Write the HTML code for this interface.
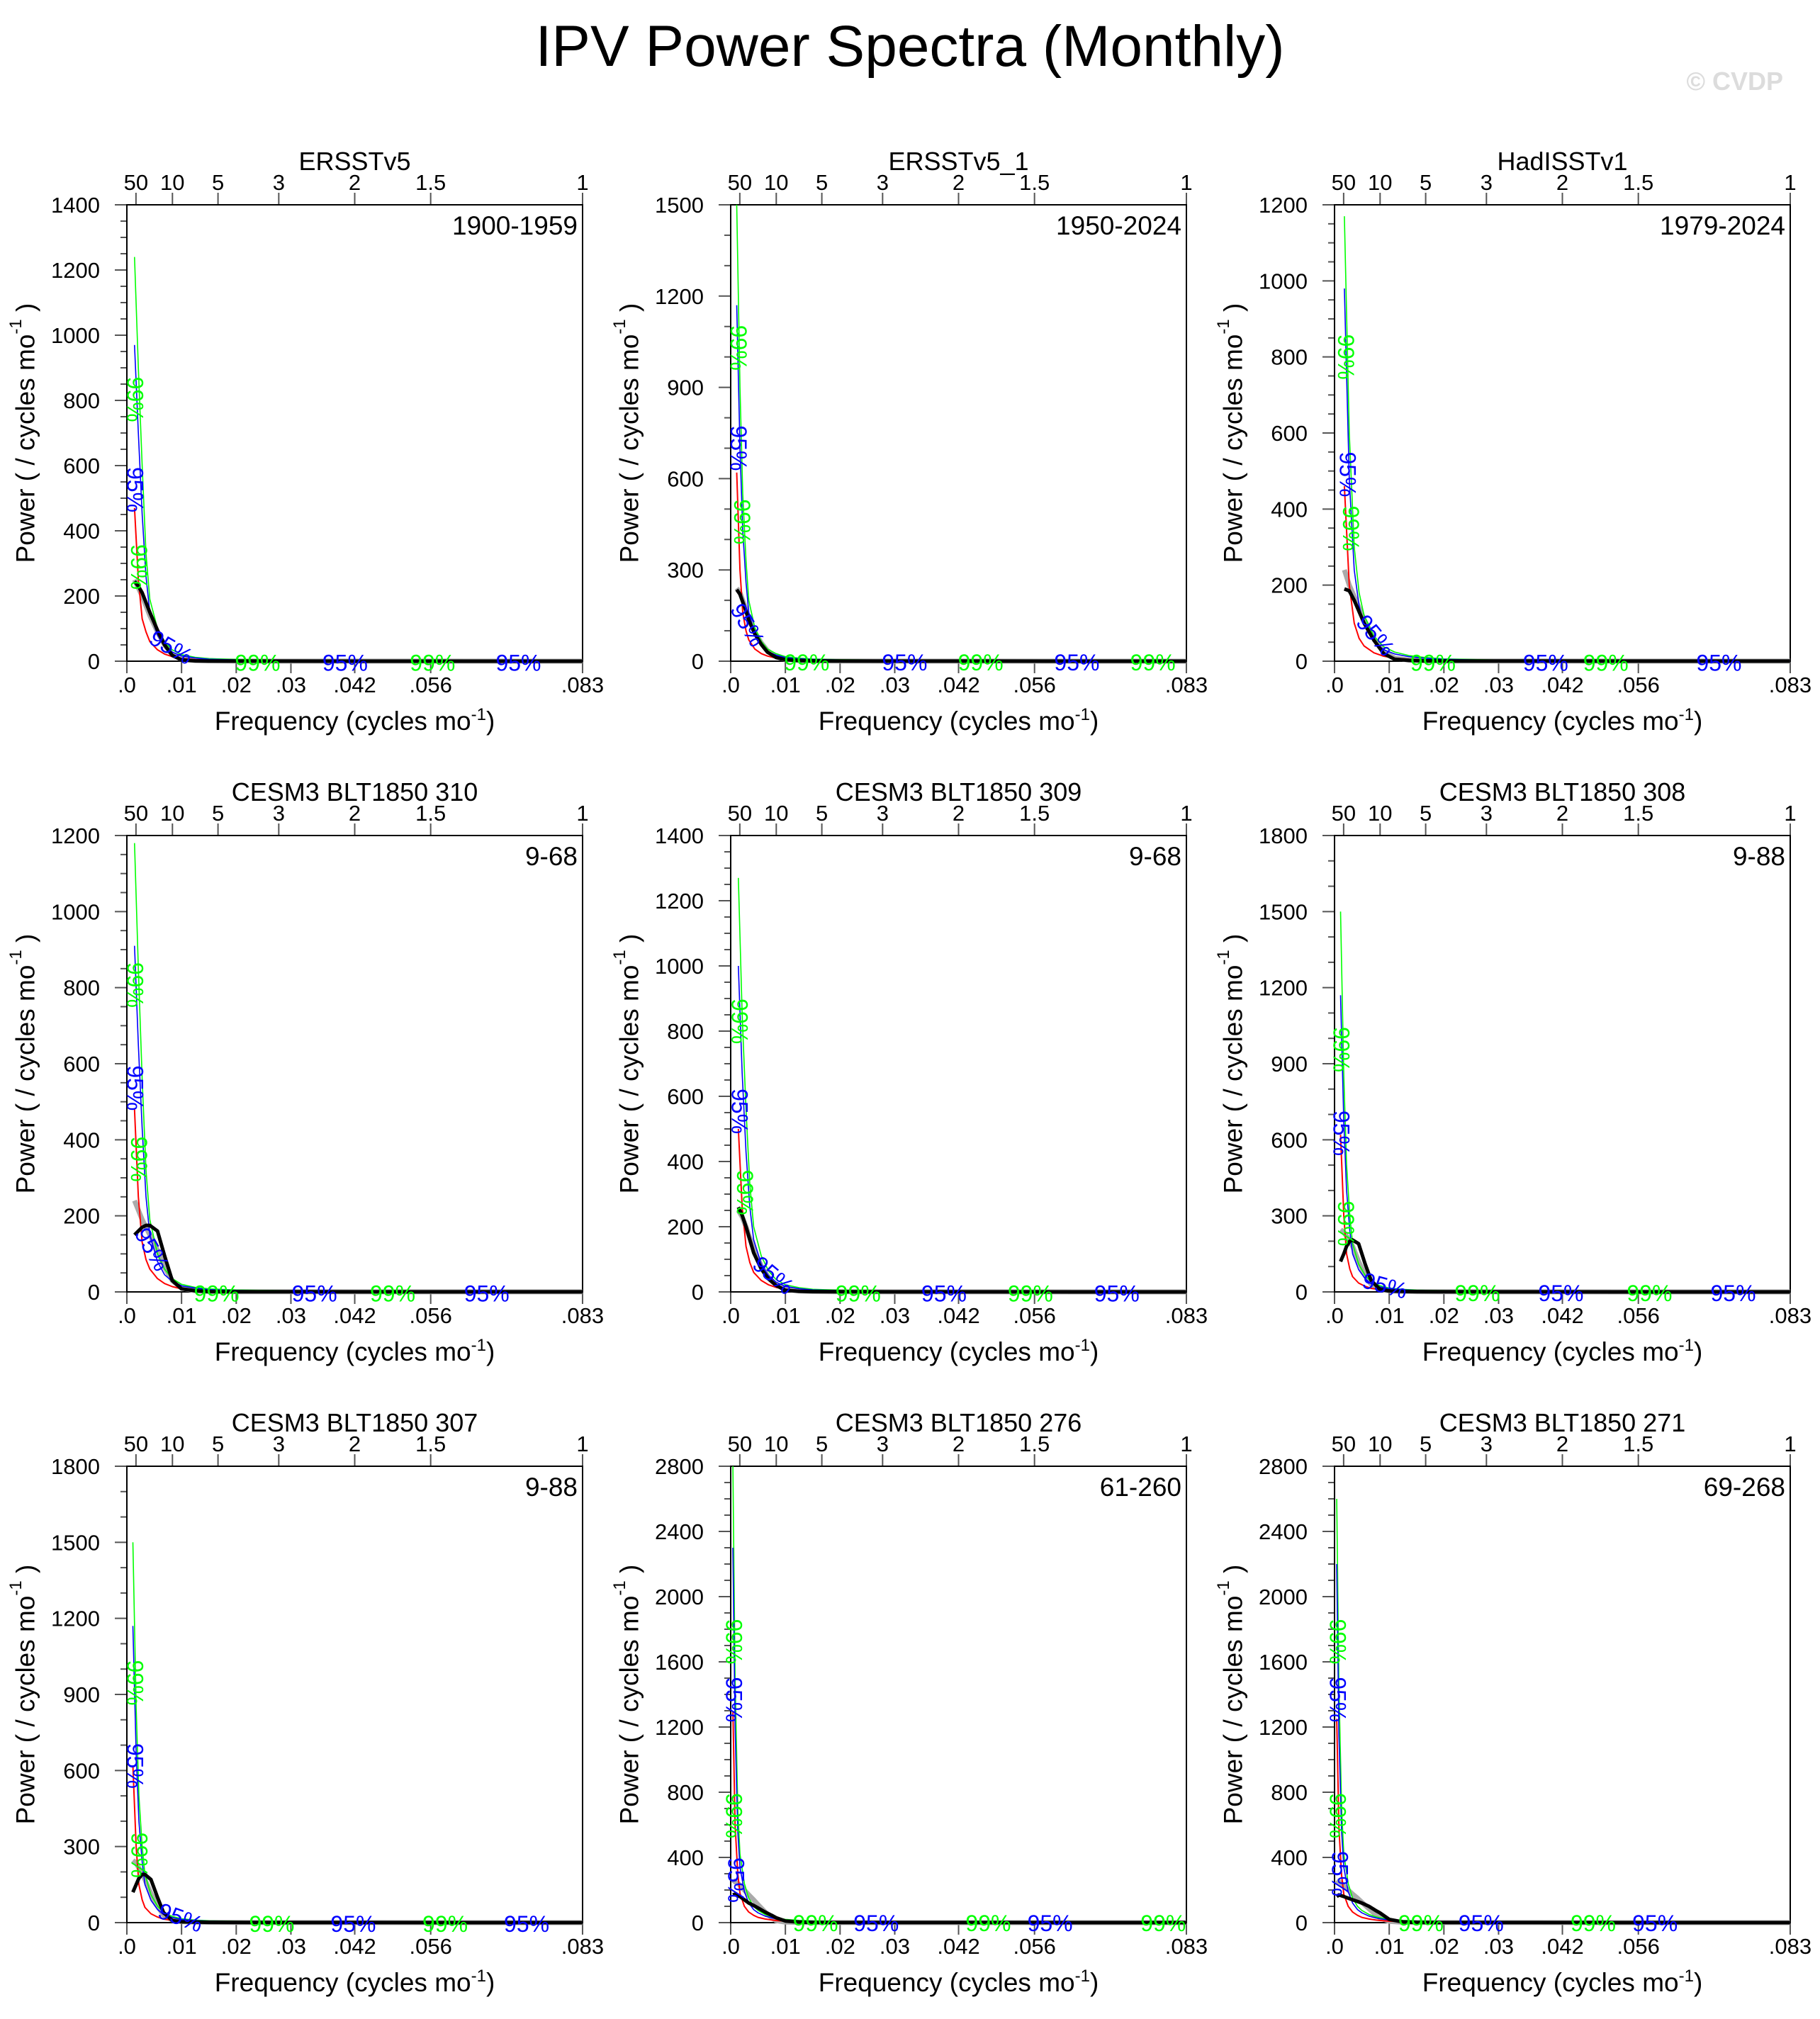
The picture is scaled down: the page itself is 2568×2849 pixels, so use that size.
<!DOCTYPE html>
<html><head><meta charset="utf-8"><title>IPV Power Spectra (Monthly)</title>
<style>
html,body{margin:0;padding:0;background:#fff;}
svg{display:block;font-family:"Liberation Sans",sans-serif;}
</style></head>
<body>
<svg id="chart" xmlns="http://www.w3.org/2000/svg" width="2568" height="2849" viewBox="0 0 2568 2849">
<text x="1284" y="93" text-anchor="middle" font-size="82" textLength="1057" lengthAdjust="spacingAndGlyphs">IPV Power Spectra (Monthly)</text>
<text x="2516" y="127" text-anchor="end" font-size="36" font-weight="bold" fill="#dcdcdc">© CVDP</text>
</svg>
<script>
// ---------- data ----------
const panelTitles = ["ERSSTv5","ERSSTv5_1","HadISSTv1","CESM3 BLT1850 310","CESM3 BLT1850 309","CESM3 BLT1850 308","CESM3 BLT1850 307","CESM3 BLT1850 276","CESM3 BLT1850 271"];
const panelPeriods = ["1900-1959","1950-2024","1979-2024","9-68","9-68","9-88","9-88","61-260","69-268"];
const yMaxes = [1400,1500,1200,1200,1400,1800,1800,2800,2800];
const ySteps = [200,300,200,200,200,300,300,400,400];
const xTickValues = [0,0.01,0.02,0.03,0.04167,0.05556,0.08333];
const xTickLabels = [".0",".01",".02",".03",".042",".056",".083"];
const periodTickValues = [50,10,5,3,2,1.5,1];
const periodTickLabels = ["50","10","5","3","2","1.5","1"];

const gridA = [.0014,.0021,.0028,.0035,.0042,.0056,.0069,.0083,.01,.0125,.015,.02,.03,.045,.0833];
const gridB = [.0011,.0017,.0022,.0028,.0033,.0044,.0056,.0067,.0083,.01,.0125,.015,.02,.03,.0833];
const gridC = [.0018,.0027,.0036,.0045,.0054,.0072,.009,.011,.0136,.0163,.02,.03,.0833];
const gridD = [.0004,.0008,.0013,.0017,.0025,.0033,.0042,.005,.0063,.0075,.0083,.01,.0125,.015,.02,.03,.0833];

const p1Red=[470,250,130,90,60,35,22,14,8,5,3,2,1,0.5,0.2];
const p1Green=[1240,900,600,330,190,100,60,35,20,12,8,5,3,1,0.5];
const p1Blue=[970,700,450,260,150,80,45,28,16,10,6,4,2,1,0.4];
const p1Gray=[250,225,200,170,140,90,50,20,6,2,1,0.5,0.3,0.2,0.1];
const p1Black=[245,230,210,180,150,95,50,18,4,1,0.5,0.3,0.2,0.1,0.1];

const p2Red=[620,300,160,100,70,40,25,17,10,6,4,3,2,1,0.2];
const p2Green=[1500,900,550,330,200,110,65,40,25,15,10,7,5,3,0.5];
const p2Blue=[1170,700,430,260,160,90,52,32,20,12,8,6,4,2,0.4];
const p2Gray=[240,225,200,170,140,95,60,35,15,6,2,1,0.5,0.3,0.1];
const p2Black=[235,220,195,165,135,90,55,30,12,5,2,1,0.5,0.3,0.1];

const p3Red=[460,200,100,60,40,22,13,8,5,3,2,1,0.2];
const p3Green=[1170,600,300,180,120,65,38,24,15,10,6,3,0.5];
const p3Blue=[980,480,240,145,95,52,30,19,12,8,5,2,0.4];
const p3Gray=[240,200,170,140,110,60,25,8,3,1,0.5,0.3,0.1];
const p3Black=[190,185,160,130,100,55,20,5,2,1,0.5,0.3,0.1];

const p4Red=[480,250,130,85,60,35,22,14,8,5,3,2,1,0.5,0.2];
const p4Green=[1180,850,560,320,190,100,60,35,20,12,8,5,3,1,0.5];
const p4Blue=[910,650,430,250,150,80,45,28,16,10,6,4,2,1,0.4];
const p4Gray=[240,215,190,170,150,110,65,30,10,3,1,0.5,0.3,0.2,0.1];
const p4Black=[150,160,170,175,175,160,95,30,8,3,1,0.5,0.3,0.2,0.1];

const p5Red=[500,260,140,90,60,35,22,14,8,5,3,2,1,0.5,0.2];
const p5Green=[1270,850,560,330,200,110,65,38,22,13,8,5,3,1,0.5];
const p5Blue=[1000,670,430,260,160,85,50,30,17,10,6,4,2,1,0.4];
const p5Gray=[250,230,200,165,130,80,45,22,8,3,1,0.5,0.3,0.2,0.1];
const p5Black=[260,235,200,160,120,70,40,20,5,2,1,0.5,0.3,0.2,0.1];

const p6Red=[620,300,150,90,60,35,22,14,9,6,4,3,2,1,0.2];
const p6Green=[1500,850,500,300,190,110,65,40,25,15,10,7,5,3,0.5];
const p6Blue=[1170,670,400,240,150,88,52,32,20,12,8,6,4,2,0.4];
const p6Gray=[245,235,220,200,180,120,65,30,10,4,2,1,0.5,0.3,0.1];
const p6Black=[120,150,180,200,205,190,110,45,10,4,2,1,0.5,0.3,0.1];

const p7Red=[620,300,150,90,60,35,22,14,9,6,4,3,2,1,0.2];
const p7Green=[1500,850,500,300,190,110,65,40,25,15,10,7,5,3,0.5];
const p7Blue=[1170,670,400,240,150,88,52,32,20,12,8,6,4,2,0.4];
const p7Gray=[245,235,215,195,170,115,65,30,10,4,2,1,0.5,0.3,0.1];
const p7Black=[120,150,175,190,190,170,100,40,8,3,2,1,0.5,0.3,0.1];

const p8Red=[1300,600,300,180,100,65,45,32,22,16,13,9,6,4,2,1,0.2];
const p8Green=[2800,1500,700,420,240,150,100,75,50,36,30,20,14,10,6,3,0.5];
const p8Blue=[2300,1200,560,340,190,120,80,60,40,29,24,16,11,8,5,2,0.4];
const p8Gray=[260,250,240,230,200,170,140,110,65,30,12,3,1,0.5,0.3,0.2,0.1];
const p8Black=[170,175,165,160,140,120,105,90,65,45,30,10,3,1,0.5,0.3,0.1];

const p9Red=[1250,580,290,175,100,65,45,32,22,16,13,9,6,4,2,1,0.2];
const p9Green=[2600,1450,700,420,240,150,100,75,50,36,30,20,14,10,6,3,0.5];
const p9Blue=[2200,1150,560,340,190,120,80,60,40,29,24,16,11,8,5,2,0.4];
const p9Gray=[260,250,240,225,200,175,150,125,85,50,30,8,2,1,0.5,0.3,0.1];
const p9Black=[160,170,165,160,150,140,130,120,100,75,60,20,4,1,0.5,0.3,0.1];

// labels: [text, color, freq, value, angle]
const p1Labels=[["99%","g",.0015,803,90],["95%","b",.0015,526,90],["99%","g",.0022,289,90],["95%","b",.0081,43,30],["99%","g",.0239,-5,0],["95%","b",.0399,-5,0],["99%","g",.0559,-5,0],["95%","b",.0716,-5,0]];
const p2Labels=[["99%","g",.0014,1030,90],["95%","b",.0014,700,90],["99%","g",.0021,458,90],["95%","b",.0031,119,60],["99%","g",.0139,-5,0],["95%","b",.0318,-5,0],["99%","g",.0457,-5,0],["95%","b",.0633,-5,0],["99%","g",.0772,-5,0]];
const p3Labels=[["99%","g",.0021,800,90],["95%","b",.0024,491,90],["99%","g",.003,349,90],["95%","b",.0075,68,50],["99%","g",.018,-5,0],["95%","b",.0386,-5,0],["99%","g",.0496,-5,0],["95%","b",.0703,-5,0]];
const p4Labels=[["99%","g",.0015,807,90],["95%","b",.0015,536,90],["99%","g",.0022,349,90],["95%","b",.0046,112,60],["99%","g",.0164,-5,0],["95%","b",.0343,-5,0],["99%","g",.0486,-5,0],["95%","b",.0658,-5,0]];
const p5Labels=[["99%","g",.0016,830,90],["95%","b",.0016,554,90],["99%","g",.0026,305,90],["95%","b",.0078,51,40],["99%","g",.0233,-5,0],["95%","b",.039,-5,0],["99%","g",.0548,-5,0],["95%","b",.0706,-5,0]];
const p6Labels=[["99%","g",.0012,956,90],["95%","b",.0012,626,90],["99%","g",.0021,270,90],["95%","b",.0092,25,15],["99%","g",.0261,-5,0],["95%","b",.0414,-5,0],["99%","g",.0576,-5,0],["95%","b",.0729,-5,0]];
const p7Labels=[["99%","g",.0015,946,90],["95%","b",.0015,618,90],["99%","g",.0023,266,90],["95%","b",.0098,20,20],["99%","g",.0265,-5,0],["95%","b",.0414,-5,0],["99%","g",.0582,-5,0],["95%","b",.0731,-5,0]];
const p8Labels=[["99%","g",.0006,1724,90],["95%","b",.0006,1368,90],["99%","g",.0006,656,90],["95%","b",.0010,261,90],["99%","g",.0155,-5,0],["95%","b",.0266,-5,0],["99%","g",.0471,-5,0],["95%","b",.0584,-5,0],["99%","g",.0791,-5,0]];
const p9Labels=[["99%","g",.0006,1724,90],["95%","b",.0006,1368,90],["99%","g",.0006,656,90],["95%","b",.0010,300,90],["99%","g",.0158,-5,0],["95%","b",.0268,-5,0],["99%","g",.0473,-5,0],["95%","b",.0586,-5,0]];

const panels = [
 [gridA,p1Red,p1Green,p1Blue,p1Gray,p1Black,p1Labels],
 [gridB,p2Red,p2Green,p2Blue,p2Gray,p2Black,p2Labels],
 [gridC,p3Red,p3Green,p3Blue,p3Gray,p3Black,p3Labels],
 [gridA,p4Red,p4Green,p4Blue,p4Gray,p4Black,p4Labels],
 [gridA,p5Red,p5Green,p5Blue,p5Gray,p5Black,p5Labels],
 [gridB,p6Red,p6Green,p6Blue,p6Gray,p6Black,p6Labels],
 [gridB,p7Red,p7Green,p7Blue,p7Gray,p7Black,p7Labels],
 [gridD,p8Red,p8Green,p8Blue,p8Gray,p8Black,p8Labels],
 [gridD,p9Red,p9Green,p9Blue,p9Gray,p9Black,p9Labels]
];

// ---------- drawing ----------
const NS="http://www.w3.org/2000/svg";
const svg=document.getElementById('chart');
const colX=[179,1031,1883], rowY=[289,1179,2069], PW=643, PH=644, XMAX=1/12;
function mk(tag,attrs,parent){const e=document.createElementNS(NS,tag);for(const k in attrs)e.setAttribute(k,attrs[k]);(parent||svg).appendChild(e);return e;}
const labelColors={g:"#00ff00",b:"#0000ff"};

panels.forEach((p,i)=>{
  const L=colX[i%3], T=rowY[Math.floor(i/3)], B=T+PH, R=L+PW;
  const ymax=yMaxes[i], ystep=ySteps[i];
  const xs=f=>L+f/XMAX*PW;
  const ys=v=>B-v/ymax*PH;
  const g=mk('g',{});
  
  
  const clipId='clip'+i;
  const cp=mk('clipPath',{id:clipId},g);
  mk('rect',{x:L,y:T,width:PW,height:PH+4},cp);

  const nMinor = ystep===300?3:4;
  for(let v=0; v<=ymax+1e-6; v+=ystep/nMinor){
    const major=Math.abs(v/ystep-Math.round(v/ystep))<1e-6;
    const t=mk('line',{x1:L-(major?17:9),x2:L,y1:ys(v),y2:ys(v),stroke:'#555','stroke-width':2},g);
    
    
    if(major){
      const tl=mk('text',{x:L-38,y:ys(v)+11,'text-anchor':'end','font-size':31},g);
      
      
      tl.textContent=String(Math.round(v));
    }
  }
  xTickValues.forEach((f,k)=>{
    const t=mk('line',{x1:xs(f),x2:xs(f),y1:B,y2:B+17,stroke:'#555','stroke-width':2},g);
    
    
    const tl=mk('text',{x:xs(f),y:B+44,'text-anchor':'middle','font-size':31},g);
    
    
    tl.textContent=xTickLabels[k];
  });
  periodTickValues.forEach((per,k)=>{
    const f=1/(12*per);
    const t=mk('line',{x1:xs(f),x2:xs(f),y1:T-17,y2:T,stroke:'#555','stroke-width':2},g);
    
    
    const tl=mk('text',{x:xs(f),y:T-21,'text-anchor':'middle','font-size':31},g);
    
    
    tl.textContent=periodTickLabels[k];
  });
  const fr=mk('rect',{x:L,y:T,width:PW,height:PH,fill:'none',stroke:'#000','stroke-width':2},g);
  
  

  const [fq,red,green,blue,gray,black,labels]=p;
  const series=[[gray,'#aaaaaa',7,'gray-spectrum'],[red,'#ff0000',2,'red-noise-line'],[green,'#00ff00',1.6,'line-99pct'],[blue,'#0000ff',1.6,'line-95pct'],[black,'#000000',5,'spectrum-line']];
  const sg=mk('g',{'clip-path':'url(#'+clipId+')'},g);
  series.forEach(s=>{
    const pts=fq.map((f,k)=>xs(f).toFixed(1)+','+ys(s[0][k]).toFixed(1)).join(' ');
    const pl=mk('polyline',{points:pts,fill:'none',stroke:s[1],'stroke-width':s[2],'stroke-linejoin':'round'},sg);
    
    
  });
  labels.forEach(lb=>{
    const x=xs(lb[2]), y=ys(lb[3]);
    const t=mk('text',{x:x,y:y,'text-anchor':'middle','dominant-baseline':'central','font-size':32,fill:labelColors[lb[1]],transform:'rotate('+lb[4]+' '+x+' '+y+')'},g);
    
    
    t.textContent=lb[0];
  });

  const ti=mk('text',{x:L+PW/2,y:T-49,'text-anchor':'middle','font-size':36},g);
  
  
  ti.textContent=panelTitles[i];
  const pe=mk('text',{x:R-7,y:T+42,'text-anchor':'end','font-size':37},g);
  
  
  pe.textContent=panelPeriods[i];
  const xt=mk('text',{x:L+PW/2,y:B+97,'text-anchor':'middle','font-size':37},g);
  
  
  xt.innerHTML='Frequency (cycles mo<tspan dy="-14" font-size="24">-1</tspan><tspan dy="14">)</tspan>';
  const cy=T+PH/2, cx=L-143;
  const yt=mk('text',{x:cx,y:cy,'text-anchor':'middle','dominant-baseline':'central','font-size':37,transform:'rotate(-90 '+cx+' '+cy+')'},g);
  
  
  yt.innerHTML='Power ( / cycles mo<tspan dy="-14" font-size="24">-1</tspan><tspan dy="14"> )</tspan>';
});
</script>
</body></html>
